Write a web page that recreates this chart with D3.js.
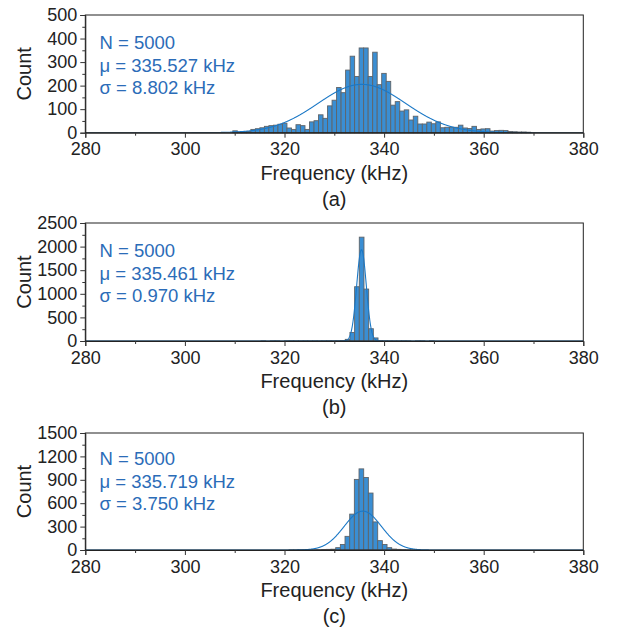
<!DOCTYPE html>
<html>
<head>
<meta charset="utf-8">
<script src="https://cdn.jsdelivr.net/npm/d3@7"></script>
<style>
body { margin: 0; background: #fff; }
text { font-family: "Liberation Sans", Arial, sans-serif; }
</style>
</head>
<body>
<div id="chart"></div>
<script>
var width = 623, height = 627

var panelLabels = ["(a)", "(b)", "(c)"]
var sampleN = [5000, 5000, 5000]
var means = [335.527, 335.461, 335.719]
var sigmas = [8.802, 0.970, 3.750]
var yMax = [500, 2500, 1500]
var yTicksA = [0, 100, 200, 300, 400, 500]
var yTicksB = [0, 500, 1000, 1500, 2000, 2500]
var yTicksC = [0, 300, 600, 900, 1200, 1500]
var yMinorStep = [50, 250, 150]
var xTicks = [280, 300, 320, 340, 360, 380]
var xMinorTicks = [290, 310, 330, 350, 370]

// histogram: left edge of first bin, bin width, counts per bin
var binStart = [309.62, 315.28, 320.91]
var binWidth = [0.906, 0.94, 0.937]
var countsA = [8, 3, 4, 5, 14, 17, 21, 27, 30, 32, 36, 40, 20, 14, 34, 30,
    14, 46, 51, 76, 61, 114, 138, 192, 170, 266, 325, 239, 360, 360, 239, 342,
    204, 252, 218, 117, 132, 92, 97, 54, 70, 37, 37, 45, 38, 46, 21, 23, 23, 23,
    32, 20, 18, 27, 14, 16, 17, 7, 9, 10, 9, 5, 4, 3, 3, 2]
var countsB = [1, 0, 1, 1, 0, 1, 2, 1, 1, 2, 1, 2, 1, 2, 3, 2, 4, 8,
    35, 180, 1150, 2200, 1100, 260, 65, 6, 3, 2, 1, 1, 2, 1, 0, 1, 1, 0, 1]
var countsC = [1, 1, 1, 2, 2, 3, 4, 6, 8, 10,
    30, 70, 175, 460, 905, 1040, 930, 730, 360, 120, 70, 30, 12,
    8, 5, 3, 2, 1]

var allCounts = [countsA, countsB, countsC]
var allYTicks = [yTicksA, yTicksB, yTicksC]

var plotLeft = 85.3, plotRight = 583.3
var plotTops = [15, 223, 433]
var plotBottoms = [132.7, 341, 550]
var textOffset = [34, 34, 32]

var svg = d3.select("#chart")
    .append("svg")
        .attr("width", width)
        .attr("height", height)

var x = d3.scaleLinear().domain([280, 380]).range([plotLeft, plotRight])

function drawPanel(p) {
    var pTop = plotTops[p], pBottom = plotBottoms[p]
    var y = d3.scaleLinear().domain([0, yMax[p]]).range([pBottom, pTop])
    var g = svg.append("g")

    g.append("clipPath").attr("id", "clip" + p)
        .append("rect")
            .attr("x", plotLeft).attr("y", pTop - 1)
            .attr("width", plotRight - plotLeft).attr("height", pBottom - pTop + 1)

    var bins = allCounts[p].map(function(c, i) {
        return {x0: binStart[p] + i * binWidth[p], x1: binStart[p] + (i + 1) * binWidth[p], n: c}
    })

    g.selectAll("rect.bar")
        .data(bins)
        .enter()
        .append("rect")
            .attr("class", "bar")
            .attr("x", function(d) { return x(d.x0) })
            .attr("width", function(d) { return x(d.x1) - x(d.x0) })
            .attr("y", function(d) { return y(d.n) })
            .attr("height", function(d) { return pBottom - y(d.n) })
            .attr("fill", "#3a8ed3")
            .attr("stroke", "#5f6469")
            .attr("stroke-width", 0.9)

    // fitted normal curve scaled to counts per bin
    var mu = means[p], sd = sigmas[p], scale = sampleN[p] * binWidth[p]
    var pts = d3.range(2001).map(function(i) {
        var f = 280 + i * 0.05
        return [f, scale * Math.exp(-0.5 * Math.pow((f - mu) / sd, 2)) / (sd * Math.sqrt(2 * Math.PI))]
    })
    g.append("path")
        .datum(pts)
        .attr("clip-path", "url(#clip" + p + ")")
        .attr("fill", "none")
        .attr("stroke", "#1b78c6")
        .attr("stroke-width", 1.1)
        .attr("d", d3.line().x(function(d) { return x(d[0]) }).y(function(d) { return y(d[1]) }))

    // frame
    g.append("rect")
        .attr("x", plotLeft).attr("y", pTop)
        .attr("width", plotRight - plotLeft).attr("height", pBottom - pTop)
        .attr("fill", "none")
        .attr("stroke", "#222")
        .attr("stroke-width", 1)

    // y axis, major and minor ticks
    g.append("g")
        .attr("transform", "translate(" + plotLeft + ",0)")
        .call(d3.axisLeft(y).tickValues(allYTicks[p]).tickFormat(d3.format("d")).tickSize(5).tickPadding(3))
    var minor = d3.range(0, yMax[p] + 1, yMinorStep[p]).filter(function(v) { return allYTicks[p].indexOf(v) < 0 })
    g.append("g")
        .attr("transform", "translate(" + plotLeft + ",0)")
        .call(d3.axisLeft(y).tickValues(minor).tickSize(3).tickFormat(""))
        .call(function(s) { s.select(".domain").remove() })

    // x axis
    g.append("g")
        .attr("transform", "translate(0," + pBottom + ")")
        .call(d3.axisBottom(x).tickValues(xTicks).tickFormat(d3.format("d")).tickSize(5).tickPadding(5))
    g.append("g")
        .attr("transform", "translate(0," + pBottom + ")")
        .call(d3.axisBottom(x).tickValues(xMinorTicks).tickSize(3).tickFormat(""))
        .call(function(s) { s.select(".domain").remove() })

    g.selectAll(".tick text")
        .attr("font-size", "18px")
        .attr("fill", "#222")
        .style("font-family", "'Liberation Sans', Arial, sans-serif")
    g.selectAll(".tick line").attr("stroke", "#333")
    g.selectAll(".domain").attr("stroke", "#222")

    // titles
    g.append("text")
        .attr("transform", "translate(31," + ((pTop + pBottom) / 2) + ") rotate(-90)")
        .attr("text-anchor", "middle")
        .attr("font-size", "20px")
        .attr("fill", "#222")
        .text("Count")
    g.append("text")
        .attr("x", (plotLeft + plotRight) / 2)
        .attr("y", pBottom + 47)
        .attr("text-anchor", "middle")
        .attr("font-size", "20px")
        .attr("fill", "#222")
        .text("Frequency (kHz)")
    g.append("text")
        .attr("x", (plotLeft + plotRight) / 2)
        .attr("y", pBottom + 73)
        .attr("text-anchor", "middle")
        .attr("font-size", "20px")
        .attr("fill", "#222")
        .text(panelLabels[p])

    // stats
    var lines = ["N = " + sampleN[p], "μ = " + mu.toFixed(3) + " kHz", "σ = " + sd.toFixed(3) + " kHz"]
    g.selectAll("text.stat")
        .data(lines)
        .enter()
        .append("text")
            .attr("class", "stat")
            .attr("x", 99.5)
            .attr("y", function(d, i) { return pTop + textOffset[p] + i * 22.5 })
            .attr("font-size", "18.5px")
            .attr("fill", "#2b6cb8")
            .text(function(d) { return d })
}

for (var p = 0; p < 3; p++) drawPanel(p)
</script>
</body>
</html>
